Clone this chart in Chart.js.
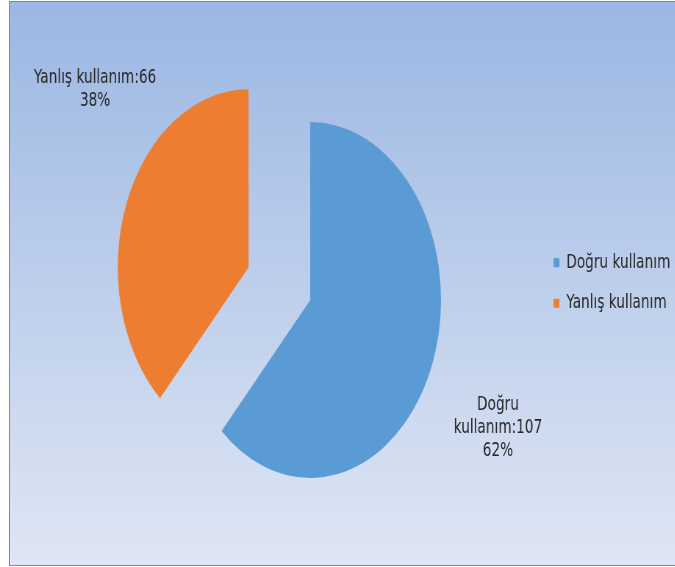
<!DOCTYPE html>
<html>
<head>
<meta charset="utf-8">
<script src="https://cdn.jsdelivr.net/npm/chart.js@4"></script>
<style>
  html, body { margin: 0; padding: 0; width: 675px; height: 567px; overflow: hidden; background: #fff; }
  #frame { position: absolute; left: 9px; top: 1px; width: 700px; height: 565px; box-sizing: border-box;
           border: 1px solid #8a8a8a; background: linear-gradient(#9bb7e3, #dfe6f4); }
  /* the original picture is squeezed sideways, so the whole chart is too */
  #wrap { position: absolute; left: 0; top: 0; width: 922px; height: 567px;
          transform: scaleX(0.735); transform-origin: 0 0; }
</style>
</head>
<body>
<div id="frame"></div>
<div id="wrap"><canvas id="pieChart"></canvas></div>
<script>
const categories = ["Doğru kullanım", "Yanlış kullanım"];
const counts = [107, 66];
const colors = ["#5b9bd5", "#ed7d31"];

// slice explosion and where each data label sits
const explode = [0, 90];
const labelTurn = [5.4, 19];
const labelDist = [286, 274];
const labelWrap = [true, false];

const total = counts.reduce((a, b) => a + b, 0);

function sliceLabel(i) {
  const name = labelWrap[i] ? categories[i].split(" ") : [categories[i]];
  const last = name.pop() + ":" + counts[i];
  return name.concat([last, Math.round(counts[i] / total * 100) + "%"]);
}

const explodePlugin = {
  id: "explode",
  afterDatasetUpdate(chart, args) {
    args.meta.data.forEach((arc, i) => {
      const mid = (arc.startAngle + arc.endAngle) / 2;
      arc.x += Math.cos(mid) * explode[i];
      arc.y += Math.sin(mid) * explode[i];
    });
  }
};

const labelPlugin = {
  id: "sliceLabels",
  afterDatasetsDraw(chart) {
    const ctx = chart.ctx;
    const arcs = chart.getDatasetMeta(0).data;
    ctx.save();
    ctx.font = '18.6px "DejaVu Sans"';
    ctx.fillStyle = "#262626";
    ctx.textAlign = "center";
    ctx.textBaseline = "middle";
    arcs.forEach((arc, i) => {
      const a = (arc.startAngle + arc.endAngle) / 2 + labelTurn[i] * Math.PI / 180;
      const cx = arc.x + Math.cos(a) * labelDist[i];
      const cy = arc.y + Math.sin(a) * labelDist[i];
      const lines = sliceLabel(i);
      lines.forEach((t, k) => ctx.fillText(t, cx, cy + (k - (lines.length - 1) / 2) * 23));
    });
    ctx.restore();
  }
};

const pieChart = new Chart(document.getElementById("pieChart"), {
  type: "pie",
  data: {
    labels: categories,
    datasets: [{
      data: counts,
      backgroundColor: colors,
      borderWidth: 0,
      radius: 178
    }]
  },
  options: {
    responsive: true,
    maintainAspectRatio: false,
    animation: false,
    layout: { padding: { left: 113, top: 33, right: 0, bottom: 0 } },
    plugins: {
      legend: {
        position: "right",
        align: "start",
        title: { display: true, text: "", padding: { top: 184, bottom: 0 } },
        labels: {
          boxWidth: 8,
          boxHeight: 9,
          padding: 22,
          color: "#262626",
          font: { family: '"DejaVu Sans"', size: 18.6 }
        }
      },
      tooltip: { enabled: false }
    }
  },
  plugins: [explodePlugin, labelPlugin]
});
</script>
</body>
</html>
